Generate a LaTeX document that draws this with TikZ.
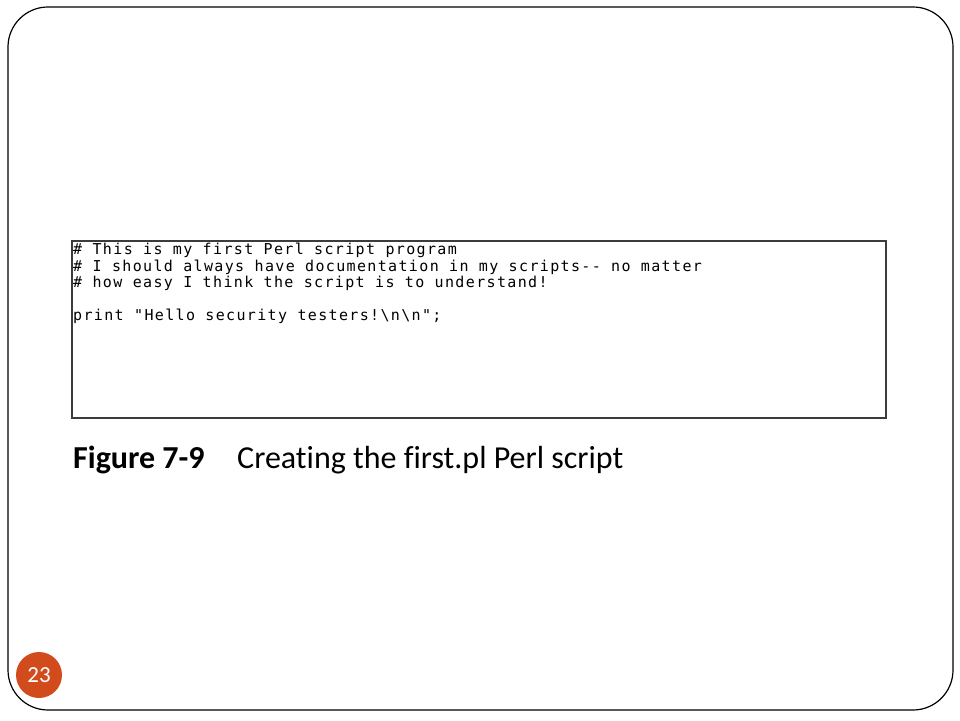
\documentclass[tikz,border=0pt]{standalone}
\usepackage{fontspec}
\setmainfont{Carlito}[Ligatures=NoCommon]
\setmonofont{DejaVu Sans Mono}[LetterSpace=9]
\usepackage{tikz}

\definecolor{slideorange}{RGB}{209,75,28}
\definecolor{boxgray}{RGB}{60,60,60}

\tikzset{
  codeline/.style={anchor=base west, inner sep=0pt,
    font=\ttfamily\fontsize{15}{16.5}\selectfont},
  captionpart/.style={anchor=base west, inner sep=0pt,
    font=\fontsize{32}{36}\selectfont}
}

\begin{document}
\begin{tikzpicture}[x=1pt, y=1pt]
\useasboundingbox (0,0) rectangle (960,720);
% slide frame
\draw[line width=1.2pt, rounded corners=40pt] (8,10) rectangle (953,713);
% code window
\draw[boxgray, line width=2pt] (72,302) rectangle (886,479);
\node[codeline] (line1) at (73,465) {\#~This is my first Perl script program};
\node[codeline] (line2) at (73,448.5) {\#~I should always have documentation in my scripts-{}- no matter};
\node[codeline] (line3) at (73,432) {\#~how easy I think the script is to understand!};
\node[codeline] (line4) at (73,399) {print "Hello security testers!\textbackslash n\textbackslash n";};
% caption
\node[captionpart, font=\bfseries\fontsize{32}{36}\selectfont] (figno) at (73,251) {Figure 7-9};
\node[captionpart] (figtext) at (237,251) {Creating the first.pl Perl script};
% slide number
\node[circle, fill=slideorange, minimum size=46pt, inner sep=0pt,
  text=white, font=\fontsize{23}{26}\selectfont] (pageno) at (39,45) {23};
\end{tikzpicture}
\end{document}
